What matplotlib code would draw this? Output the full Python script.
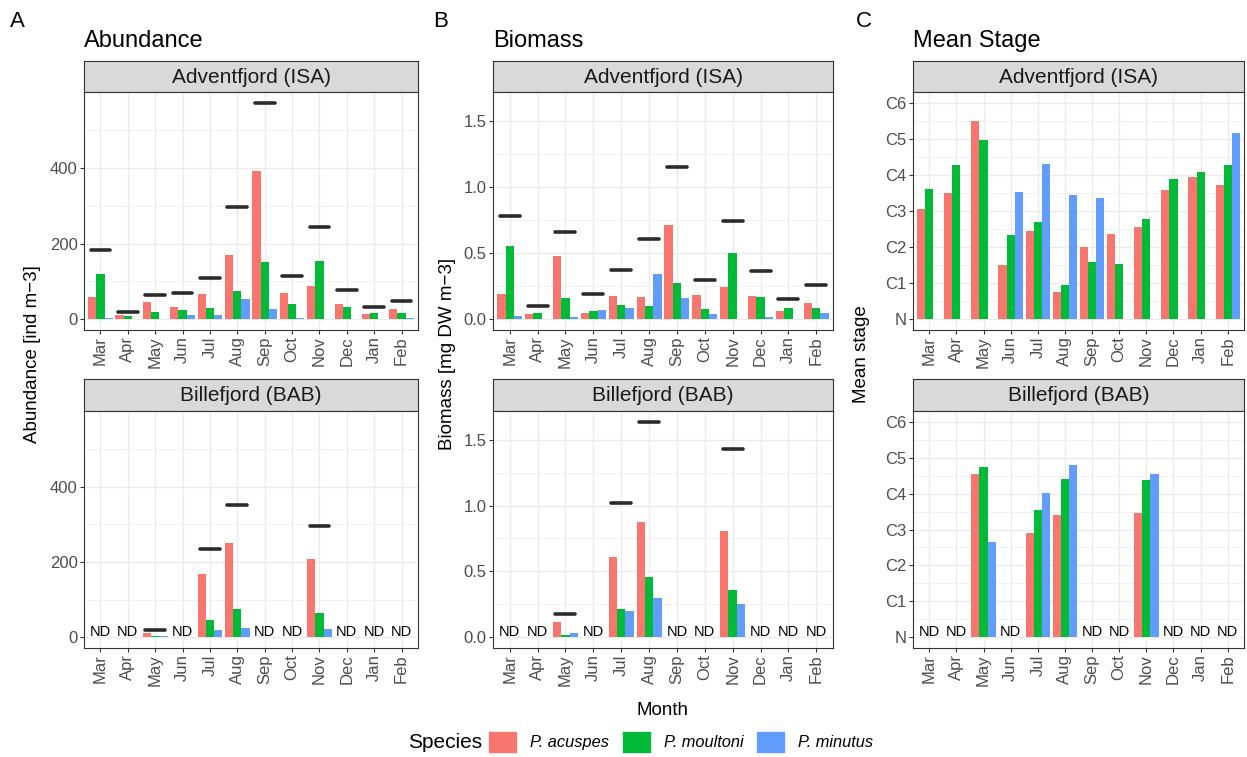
import numpy as np
import matplotlib
matplotlib.use("Agg")
import matplotlib.pyplot as plt
from matplotlib.patches import Patch

plt.rcParams["font.family"] = ["Liberation Sans", "DejaVu Sans"]

W, H = 1247, 757
nan = np.nan

months = ["Mar", "Apr", "May", "Jun", "Jul", "Aug", "Sep", "Oct", "Nov", "Dec", "Jan", "Feb"]
species = ["P. acuspes", "P. moultoni", "P. minutus"]
colors = ["#F8766D", "#00BA38", "#619CFF"]

# abundance [ind m-3]
abund_isa_acu = [59, 10, 45, 32, 66, 170, 393, 69, 88, 41, 13, 28]
abund_isa_mou = [120, 8, 18, 24, 30, 74, 151, 39, 154, 33, 16, 16]
abund_isa_min = [2, 0, 1, 12, 11, 53, 26, 3, 0, 1, 0, 4]
abund_isa_tot = [182, 19, 65, 69, 108, 297, 572, 113, 243, 77, 31, 48]

abund_bab_acu = [nan, nan, 12, nan, 167, 249, nan, nan, 207, nan, nan, nan]
abund_bab_mou = [nan, nan, 4, nan, 47, 76, nan, nan, 65, nan, nan, nan]
abund_bab_min = [nan, nan, 4, nan, 19, 25, nan, nan, 22, nan, nan, nan]
abund_bab_tot = [nan, nan, 20, nan, 235, 351, nan, nan, 295, nan, nan, nan]

# biomass [mg DW m-3]
bio_isa_acu = [0.19, 0.04, 0.48, 0.045, 0.175, 0.165, 0.71, 0.18, 0.24, 0.175, 0.06, 0.125]
bio_isa_mou = [0.555, 0.05, 0.16, 0.065, 0.11, 0.10, 0.27, 0.075, 0.50, 0.165, 0.085, 0.085]
bio_isa_min = [0.025, 0.003, 0.013, 0.073, 0.087, 0.34, 0.158, 0.04, 0.0, 0.02, 0.005, 0.048]
bio_isa_tot = [0.78, 0.10, 0.66, 0.19, 0.375, 0.61, 1.148, 0.30, 0.746, 0.367, 0.153, 0.262]

bio_bab_acu = [nan, nan, 0.116, nan, 0.606, 0.872, nan, nan, 0.809, nan, nan, nan]
bio_bab_mou = [nan, nan, 0.02, nan, 0.211, 0.46, nan, nan, 0.359, nan, nan, nan]
bio_bab_min = [nan, nan, 0.03, nan, 0.198, 0.30, nan, nan, 0.256, nan, nan, nan]
bio_bab_tot = [nan, nan, 0.176, nan, 1.02, 1.636, nan, nan, 1.427, nan, nan, nan]

# mean stage (0 = N, 1..6 = C1..C6)
stage_isa_acu = [3.05, 3.49, 5.49, 1.50, 2.45, 0.76, 2.01, 2.36, 2.55, 3.58, 3.94, 3.73]
stage_isa_mou = [3.62, 4.28, 4.96, 2.33, 2.70, 0.96, 1.59, 1.54, 2.79, 3.90, 4.08, 4.28]
stage_isa_min = [nan, nan, nan, 3.52, 4.31, 3.44, 3.35, nan, nan, nan, nan, 5.15]

stage_bab_acu = [nan, nan, 4.54, nan, 2.89, 3.40, nan, nan, 3.46, nan, nan, nan]
stage_bab_mou = [nan, nan, 4.74, nan, 3.55, 4.40, nan, nan, 4.37, nan, nan, nan]
stage_bab_min = [nan, nan, 2.66, nan, 4.02, 4.80, nan, nan, 4.54, nan, nan, nan]
stage_labels = ["N", "C1", "C2", "C3", "C4", "C5", "C6"]

BORDER = "#333333"


def px_axes(fig, left, top, right, bottom):
    return fig.add_axes([left / W, 1 - bottom / H, (right - left) / W, (bottom - top) / H])


def strip(fig, left, top, right, bottom, label):
    ax = px_axes(fig, left, top, right, bottom)
    ax.set_facecolor("#D9D9D9")
    ax.set_xticks([])
    ax.set_yticks([])
    for s in ax.spines.values():
        s.set_color(BORDER)
        s.set_linewidth(0.8)
    ax.text(0.5, 0.47, label, ha="center", va="center", transform=ax.transAxes,
            fontsize=15, color="#1A1A1A")


def panel(fig, box, series, total, ylim, yticks, yticklabels, yminor):
    ax = px_axes(fig, *box)
    x = np.arange(len(months))
    for k, (vals, c) in enumerate(zip(series, colors)):
        vals = np.asarray(vals, float)
        ok = np.isfinite(vals)
        ax.bar(x[ok] + (k - 1) * 0.3, vals[ok], width=0.3, color=c, linewidth=0, zorder=2)
    if total is not None:
        t = np.asarray(total, float)
        ok = np.isfinite(t)
        lc = ax.hlines(t[ok], x[ok] - 0.36, x[ok] + 0.36, color="#2B2B2B", linewidth=2.6, zorder=3)
        lc.set_capstyle("round")
    # ND where no species has data
    for i in range(len(months)):
        if all(not np.isfinite(v[i]) for v in series):
            ax.annotate("ND", (i, 0), xytext=(0, 1), textcoords="offset points",
                        ha="center", va="baseline", fontsize=10.5, color="black", zorder=4)

    ax.set_xlim(-0.6, len(months) - 0.4)
    ax.set_ylim(*ylim)
    ax.set_xticks(x)
    ax.set_xticklabels(months, rotation=90)
    ax.set_yticks(yticks)
    ax.set_yticklabels(yticklabels)
    ax.set_yticks(yminor, minor=True)
    ax.grid(which="major", color="#EBEBEB", linewidth=1.0)
    ax.grid(which="minor", axis="y", color="#EBEBEB", linewidth=0.5)
    ax.set_axisbelow(True)
    ax.tick_params(which="major", length=3, width=0.8, color=BORDER, labelcolor="#4D4D4D",
                   labelsize=12, pad=1.5)
    ax.tick_params(which="minor", length=0)
    for s in ax.spines.values():
        s.set_color(BORDER)
        s.set_linewidth(0.8)
    return ax


def expand(lo, hi):
    pad = (hi - lo) * 0.05
    return (lo - pad, hi + pad)


fig = plt.figure(figsize=(W / 100, H / 100), dpi=100)

cols = [(84, 418), (493, 833), (913, 1244)]
rows = [(61, 92, 330), (379, 411, 648)]
sites = ["Adventfjord (ISA)", "Billefjord (BAB)"]

abund_max = np.nanmax(abund_isa_tot + abund_bab_tot)
bio_max = np.nanmax(bio_isa_tot + bio_bab_tot)

panels = [
    dict(series=[[abund_isa_acu, abund_isa_mou, abund_isa_min], [abund_bab_acu, abund_bab_mou, abund_bab_min]],
         total=[abund_isa_tot, abund_bab_tot], ylim=expand(0, abund_max),
         yticks=[0, 200, 400], ylabels=["0", "200", "400"], yminor=[100, 300, 500]),
    dict(series=[[bio_isa_acu, bio_isa_mou, bio_isa_min], [bio_bab_acu, bio_bab_mou, bio_bab_min]],
         total=[bio_isa_tot, bio_bab_tot], ylim=expand(0, bio_max),
         yticks=[0, 0.5, 1.0, 1.5], ylabels=["0.0", "0.5", "1.0", "1.5"], yminor=[0.25, 0.75, 1.25]),
    dict(series=[[stage_isa_acu, stage_isa_mou, stage_isa_min], [stage_bab_acu, stage_bab_mou, stage_bab_min]],
         total=[None, None], ylim=expand(0, 6),
         yticks=list(range(7)), ylabels=stage_labels, yminor=[0.5, 1.5, 2.5, 3.5, 4.5, 5.5]),
]

for (left, right), p in zip(cols, panels):
    for r, (stop, ptop, pbot) in enumerate(rows):
        strip(fig, left, stop, right, ptop, sites[r])
        panel(fig, (left, ptop, right, pbot), p["series"][r], p["total"][r], p["ylim"],
              p["yticks"], p["ylabels"], p["yminor"])

# panel letters and titles
for letter, lx, title, tx in [("A", 10, "Abundance", 84), ("B", 433, "Biomass", 493),
                              ("C", 856, "Mean Stage", 913)]:
    fig.text(lx / W, 1 - 27 / H, letter, fontsize=16, va="baseline", ha="left")
    fig.text(tx / W, 1 - 47 / H, title, fontsize=17, va="baseline", ha="left")

# y axis titles
for ylab, x in [("Abundance [ind m\u22123]", 33), ("Biomass [mg DW m\u22123]", 447), ("Mean stage", 862)]:
    fig.text(x / W, 1 - 354 / H, ylab, rotation=90, ha="center", va="center", fontsize=13.5)

fig.text(663 / W, 1 - 715 / H, "Month", ha="center", va="baseline", fontsize=13.5)

# legend
fig.text(408 / W, 1 - 742 / H, "Species", ha="left", va="center", fontsize=15)
handles = [Patch(facecolor=c, edgecolor="white", linewidth=0.5) for c in colors]
fig.legend(handles, species, loc="center left", bbox_to_anchor=(488 / W, 1 - 742 / H), ncol=3,
           frameon=False, handlelength=1.75, handleheight=1.75, handletextpad=0.8,
           columnspacing=0.8, borderaxespad=0, borderpad=0,
           prop={"size": 11.8, "style": "italic"})

fig.savefig("out.png", dpi=100)
